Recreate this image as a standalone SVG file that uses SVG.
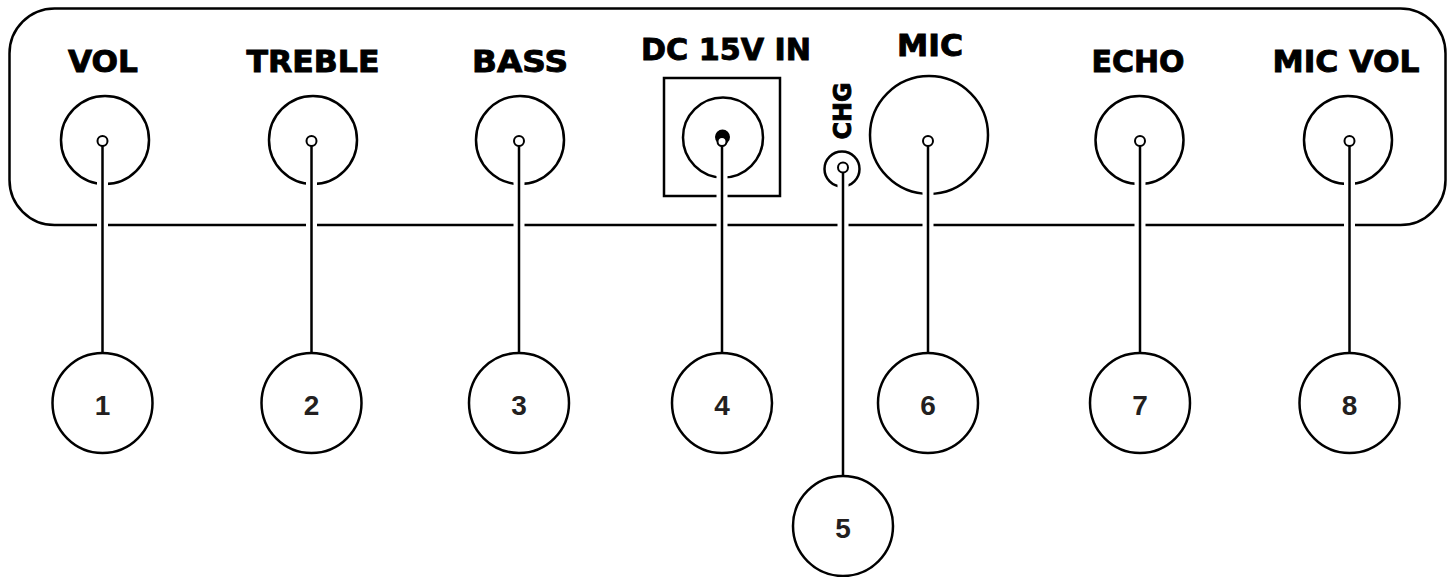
<svg xmlns="http://www.w3.org/2000/svg" width="1453" height="577" viewBox="0 0 1453 577">
<style>
.ln{fill:none;stroke:#000;stroke-width:2.5}
.halo{fill:none;stroke:#fff;stroke-width:11}
.wire{fill:none;stroke:#000;stroke-width:2.5}
.lbl{font-family:"DejaVu Sans","Liberation Sans",sans-serif;font-weight:bold;font-size:30px;text-anchor:middle;fill:#000;stroke:#000;stroke-width:0.9}
.num{font-family:"Liberation Sans",Arial,sans-serif;font-weight:bold;font-size:28px;text-anchor:middle;fill:#231f20}
.dot{fill:#fff;stroke:#000;stroke-width:2}
.call{fill:#fff;stroke:#000;stroke-width:2.5}
</style>
<rect width="1453" height="577" fill="#fff"/>
<g id="panel">
<rect class="ln" x="9.5" y="8.5" width="1436" height="216.5" rx="45" ry="45"/>
</g>
<g id="vol">
<text class="lbl" x="103" y="72" textLength="70" lengthAdjust="spacingAndGlyphs">VOL</text>
<circle class="ln" cx="105" cy="140" r="44"/>
<circle class="dot" cx="102.5" cy="141" r="5"/>
</g>
<g id="treble">
<text class="lbl" x="313" y="72" textLength="133" lengthAdjust="spacingAndGlyphs">TREBLE</text>
<circle class="ln" cx="313" cy="140" r="44"/>
<circle class="dot" cx="311.5" cy="141" r="5"/>
</g>
<g id="bass">
<text class="lbl" x="520" y="72" textLength="96" lengthAdjust="spacingAndGlyphs">BASS</text>
<circle class="ln" cx="520" cy="140" r="44"/>
<circle class="dot" cx="519" cy="141" r="5"/>
</g>
<g id="dc-in">
<text class="lbl" x="726" y="60" textLength="170" lengthAdjust="spacingAndGlyphs">DC 15V IN</text>
<rect class="ln" x="664" y="78" width="116" height="118"/>
<circle class="ln" cx="723" cy="137.5" r="40"/>
<circle cx="722.5" cy="137" r="7.5" fill="#000"/>
<circle class="dot" cx="722" cy="141.5" r="4.5"/>
</g>
<g id="chg">
<text class="lbl" transform="translate(851,111) rotate(-90)" x="0" y="0" style="font-size:24px" textLength="57" lengthAdjust="spacingAndGlyphs">CHG</text>
<circle class="ln" cx="842" cy="169" r="17.5"/>
<circle class="dot" cx="843" cy="167.5" r="5"/>
</g>
<g id="mic">
<text class="lbl" x="930" y="56" textLength="66" lengthAdjust="spacingAndGlyphs">MIC</text>
<circle class="ln" cx="929" cy="135" r="59"/>
<circle class="dot" cx="928" cy="141" r="5"/>
</g>
<g id="echo">
<text class="lbl" x="1138" y="72" textLength="93" lengthAdjust="spacingAndGlyphs">ECHO</text>
<circle class="ln" cx="1139.5" cy="140" r="44"/>
<circle class="dot" cx="1140" cy="141" r="5"/>
</g>
<g id="mic-vol">
<text class="lbl" x="1346" y="72" textLength="147" lengthAdjust="spacingAndGlyphs">MIC VOL</text>
<circle class="ln" cx="1348" cy="140" r="44"/>
<circle class="dot" cx="1349.5" cy="141" r="5"/>
</g>
<g id="connectors">
<path class="halo" d="M102.5 152V232 M311.5 152V232 M519 152V232 M722 152V232 M843 178V232 M928 152V232 M1140 152V232 M1349.5 152V232"/>
<path class="wire" d="M102.5 146V353 M311.5 146V353 M519 146V353 M722 146V353 M843 172.5V476 M928 146V353 M1140 146V353 M1349.5 146V353"/>
</g>
<g id="c1"><circle class="call" cx="102.5" cy="403" r="50"/><text class="num" x="102.5" y="415">1</text></g>
<g id="c2"><circle class="call" cx="311.5" cy="403" r="50"/><text class="num" x="311.5" y="415">2</text></g>
<g id="c3"><circle class="call" cx="519" cy="403" r="50"/><text class="num" x="519" y="415">3</text></g>
<g id="c4"><circle class="call" cx="722" cy="403" r="50"/><text class="num" x="722" y="415">4</text></g>
<g id="c5"><circle class="call" cx="843" cy="526" r="50"/><text class="num" x="843" y="538">5</text></g>
<g id="c6"><circle class="call" cx="928" cy="403" r="50"/><text class="num" x="928" y="415">6</text></g>
<g id="c7"><circle class="call" cx="1140" cy="403" r="50"/><text class="num" x="1140" y="415">7</text></g>
<g id="c8"><circle class="call" cx="1349.5" cy="403" r="50"/><text class="num" x="1349.5" y="415">8</text></g>
</svg>
